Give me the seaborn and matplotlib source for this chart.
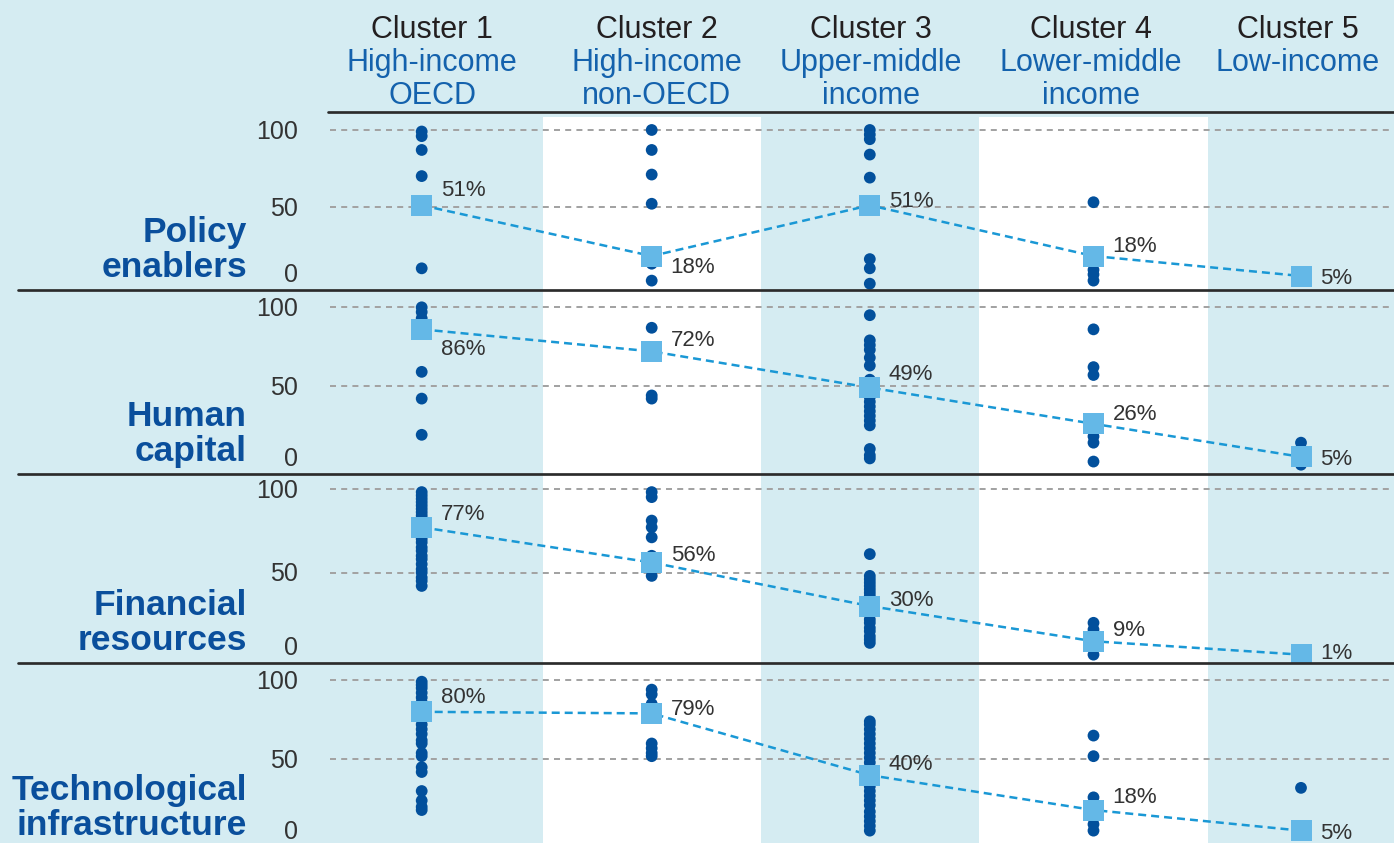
import matplotlib
matplotlib.use("Agg")
import matplotlib.pyplot as plt
import matplotlib.transforms as mtransforms
from matplotlib.lines import Line2D
import pandas as pd
import seaborn as sns

# ---------------------------------------------------------------- data
CLUSTERS = ["Cluster 1", "Cluster 2", "Cluster 3", "Cluster 4", "Cluster 5"]
INCOME_GROUPS = [["High-income", "OECD"], ["High-income", "non-OECD"],
                 ["Upper-middle", "income"], ["Lower-middle", "income"],
                 ["Low-income"]]
PILLARS = ["Policy\nenablers", "Human\ncapital",
           "Financial\nresources", "Technological\ninfrastructure"]
Y_TICKS = [100, 50, 0]

# country scores per cluster (0-100)
policy_scores = [
    [99, 96, 87, 70, 10],
    [100, 87, 71, 52, 13, 2],
    [100, 97, 94, 84, 69, 16, 10, 0],
    [53, 9, 6, 2],
    [7],
]
human_scores = [
    [100, 97, 93, 59, 42, 19],
    [87, 44, 42],
    [95, 79, 76, 73, 68, 63, 54, 52, 49, 46, 43, 40, 37, 34, 31, 28, 25, 10, 6, 4],
    [86, 62, 57, 18, 14, 2],
    [14, 0],
]
financial_scores = [
    [98, 96, 94, 92, 90, 88, 86, 84, 82, 80, 78, 75, 72, 70, 68, 65, 63, 60,
     58, 55, 52, 50, 47, 45, 42],
    [98, 95, 81, 77, 71, 60, 52, 48],
    [61, 48, 46, 44, 42, 40, 38, 36, 34, 30, 27, 25, 22, 20, 17, 15, 12, 10, 8],
    [20, 16, 5, 1],
    [0],
]
tech_scores = [
    [99, 97, 95, 92, 89, 86, 83, 76, 72, 69, 66, 62, 60, 54, 52, 45, 42, 30,
     24, 20, 18],
    [94, 91, 85, 82, 60, 57, 54, 52],
    [74, 72, 69, 66, 63, 60, 57, 54, 51, 48, 45, 42, 36, 33, 30, 27, 24, 21,
     17, 14, 11, 8, 5],
    [65, 52, 26, 22, 17, 13, 9, 5],
    [32, 7],
]

# cluster averages (%)
policy_means = [51, 18, 51, 18, 5]
human_means = [86, 72, 49, 26, 5]
financial_means = [77, 56, 30, 9, 1]
tech_means = [80, 79, 40, 18, 5]

SCORES = [policy_scores, human_scores, financial_scores, tech_scores]
MEANS = [policy_means, human_means, financial_means, tech_means]

# ---------------------------------------------------------------- layout
W, H = 1394, 843
AX_LEFT = 330
CLUSTER_X = [421.7, 651.7, 869.8, 1093.5, 1301.0]     # column centres
HEADER_X = [432, 657, 871, 1091, 1298]
WHITE_BANDS = [(542.7, 760.7), (979.0, 1208.0)]
PANEL_EDGES = [112.3, 290.0, 474.0, 662.7, 843.0]
YLIMS = [(-4.1, 111.5), (-5.9, 111.0), (-3.8, 108.8), (-2.8, 111.0)]
# label offsets from each square (pixels, positive = downwards)
LABEL_DY = [
    [-17, 9, -6, -12, 0],
    [18, -13, -16, -12, 0],
    [-15, -9, -8, -13, -4],
    [-17, -6, -13, -15, 0],
]
ROW_LABEL_PAD = [6, 6, 6, 1]
ZERO_BASELINE = [8, 8, 8, 4]
HEADER_BASELINES = [38, 71, 104]

BG = "#d5ecf2"
DOT = "#02509c"
SQUARE = "#64b8e7"
MEAN_LINE = "#1a98d5"
GRID = "#a3a3a3"
RULE = "#2b2b2b"
TEXT = "#333333"
HEAD_BLUE = "#1462ad"
ROW_BLUE = "#0a4f9c"

PX = 72 / 100  # points per pixel
TICK_FS, PCT_FS = 18, 16

sns.set_theme(style="white")
plt.rcParams["font.family"] = ["Liberation Sans", "DejaVu Sans"]

fig = plt.figure(figsize=(W / 100, H / 100), dpi=100, facecolor=BG)

axes = []
for i in range(4):
    top, bot = PANEL_EDGES[i], PANEL_EDGES[i + 1]
    ax = fig.add_axes([AX_LEFT / W, 1 - bot / H, (W - AX_LEFT) / W, (bot - top) / H])
    ax.set_facecolor("none")
    axes.append(ax)

for i, ax in enumerate(axes):
    top, bot = PANEL_EDGES[i], PANEL_EDGES[i + 1]
    ymax = 1 - 4.4 / (bot - top) if i == 0 else 1
    for x0, x1 in WHITE_BANDS:
        ax.axvspan(x0, x1, ymax=ymax, color="white", lw=0, zorder=0)
    for v in (50, 100):
        ax.axhline(v, color=GRID, lw=2.0 * PX, ls=(0, (3.0, 2.6)), zorder=1)

    rows = []
    for c, vals in enumerate(SCORES[i]):
        for v in vals:
            rows.append({"cluster": CLUSTERS[c], "x": CLUSTER_X[c], "score": v})
    df = pd.DataFrame(rows)
    sns.scatterplot(data=df, x="x", y="score", ax=ax, color=DOT, s=72,
                    edgecolor="none", linewidth=0, legend=False, zorder=3)

    mdf = pd.DataFrame({"cluster": CLUSTERS, "x": CLUSTER_X, "mean": MEANS[i]})
    sns.lineplot(data=mdf, x="x", y="mean", ax=ax, color=MEAN_LINE,
                 lw=2.5 * PX, linestyle=(0, (3.2, 2.0)), errorbar=None,
                 legend=False, zorder=4)
    sns.scatterplot(data=mdf, x="x", y="mean", ax=ax, color=SQUARE, marker="s",
                    s=(21 * PX) ** 2, edgecolor="none", linewidth=0,
                    legend=False, zorder=5)
    pct_half = 0.716 * PCT_FS / PX / 2   # half digit height, pixels
    for c in range(5):
        ax.annotate(f"{MEANS[i][c]}%", xy=(CLUSTER_X[c], MEANS[i][c]),
                    xytext=(19 * PX, (-LABEL_DY[i][c] - pct_half) * PX),
                    textcoords="offset points", ha="left", va="baseline",
                    fontsize=PCT_FS, color=TEXT, zorder=6)

    ax.set_xlabel("")
    ax.set_ylabel("")
    ax.set_xticks([])
    ax.set_yticks([])
    for s in ax.spines.values():
        s.set_visible(False)
    ax.set_xlim(AX_LEFT, W)
    ax.set_ylim(*YLIMS[i])

    # value scale
    tick_half = 0.716 * TICK_FS / PX / 2
    for v in Y_TICKS:
        if v == 0:
            ax.annotate("0", xy=(0, 0), xycoords="axes fraction",
                        xytext=(-32 * PX, ZERO_BASELINE[i] * PX),
                        textcoords="offset points", ha="right", va="baseline",
                        fontsize=TICK_FS, color=TEXT)
        else:
            ax.annotate(str(v), xy=(0, v), xycoords=("axes fraction", "data"),
                        xytext=(-32 * PX, -tick_half * PX),
                        textcoords="offset points", ha="right", va="baseline",
                        fontsize=TICK_FS, color=TEXT)

    # pillar name
    ax.annotate(PILLARS[i], xy=(0, 0), xycoords="axes fraction",
                xytext=((247 - AX_LEFT) * PX, ROW_LABEL_PAD[i] * PX),
                textcoords="offset points", ha="right", va="bottom",
                fontsize=25.5, fontweight="bold", color=ROW_BLUE,
                linespacing=1.06)

# header rule and panel separators
fig.add_artist(Line2D([328 / W, 1], [1 - PANEL_EDGES[0] / H] * 2,
                      transform=fig.transFigure, color=RULE, lw=2.7 * PX))
for yb in PANEL_EDGES[1:4]:
    fig.add_artist(Line2D([18 / W, 1], [1 - yb / H] * 2,
                          transform=fig.transFigure, color=RULE, lw=2.7 * PX,
                          zorder=10))

# column headings
head_tr = mtransforms.blended_transform_factory(axes[0].transData, fig.transFigure)
for c in range(5):
    fig.text(HEADER_X[c], 1 - HEADER_BASELINES[0] / H, CLUSTERS[c],
             transform=head_tr, ha="center", va="baseline", fontsize=22,
             color="#231f20")
    for k, line in enumerate(INCOME_GROUPS[c]):
        fig.text(HEADER_X[c], 1 - HEADER_BASELINES[k + 1] / H, line,
                 transform=head_tr, ha="center", va="baseline", fontsize=22,
                 color=HEAD_BLUE)

fig.savefig("out.png", dpi=100, facecolor=BG)
